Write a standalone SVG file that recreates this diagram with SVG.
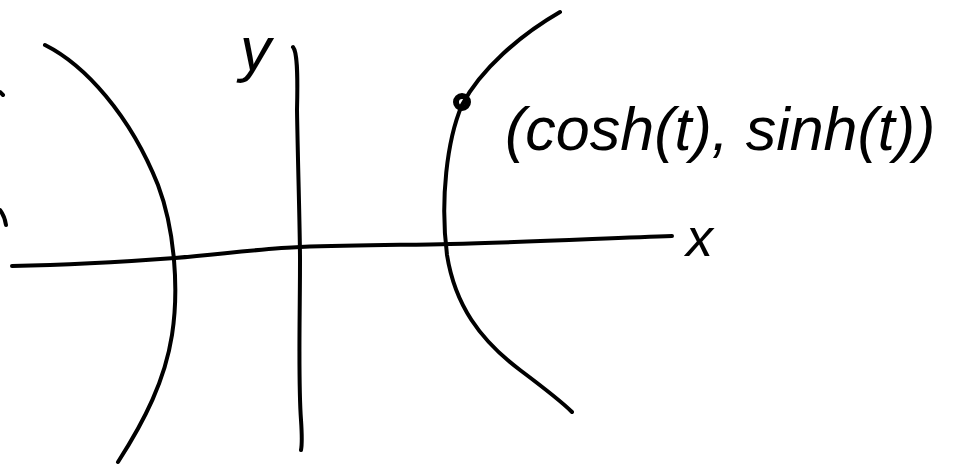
<svg xmlns="http://www.w3.org/2000/svg" width="958" height="468" viewBox="0 0 958 468">
<style>
.s{fill:none;stroke:#000;stroke-width:4;stroke-linecap:round;stroke-linejoin:round}
.t{font-family:"Liberation Sans",Arial,sans-serif;fill:#000}
</style>
<rect width="958" height="468" fill="#fff"/>
<g id="axes">
<path id="x-axis" class="s" d="M12,266 C60,265 120,262 175,258 C230,253 270,248 300,247 C360,245 410,245 450,244 C530,242 610,238 672,236"/>
<path id="y-axis" class="s" d="M293,47 C297,52 298,70 297,110 C298,170 300,230 300,260 C300,320 298,380 301,420 C302,435 302,445 301,450"/>
</g>
<g id="curves">
<path id="left-branch" class="s" d="M45,45 C85,65 130,115 158,185 C175,230 179,290 172,335 C165,380 145,420 118,462"/>
<path id="right-branch" class="s" d="M560,12 C520,35 480,70 462,105 C447,140 440,200 447,255 C455,305 480,340 520,370 C540,385 560,400 572,412"/>
<path class="s" d="M0,92 L3,95"/>
<path class="s" d="M0,210 C3,214 5,218 6,225"/>
</g>
<g id="point">
<circle cx="462" cy="102" r="6" fill="none" stroke="#000" stroke-width="6"/>
</g>
<g id="labels">
<text class="t" x="240" y="70" font-size="62" font-style="italic">y</text>
<text class="t" x="686" y="256" font-size="54" font-style="italic">x</text>
<text class="t" x="505" y="150" font-size="61" font-style="italic">(cosh(t), sinh(t))</text>
</g>
</svg>
